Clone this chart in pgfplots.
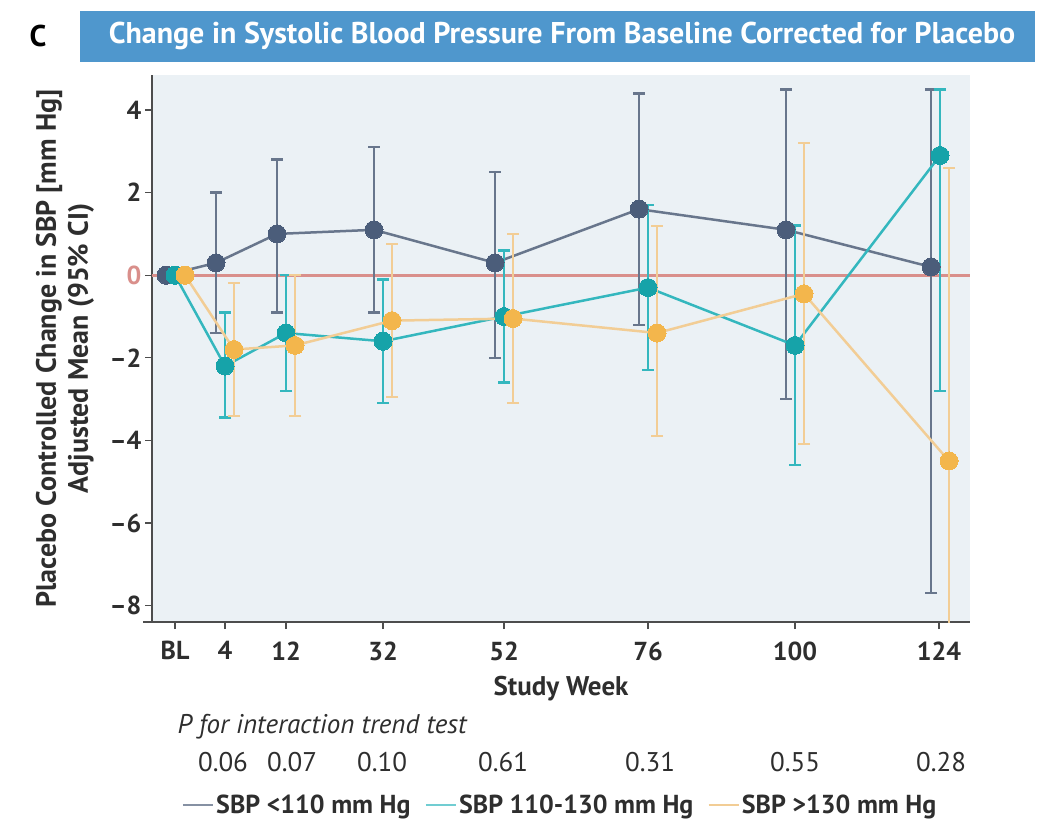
\documentclass[border=0pt]{standalone}
\usepackage{pgfplots}
\usepackage{pgfplotstable}
\pgfplotsset{compat=1.18}
\usepackage{fontspec}
\setmainfont{PT Sans}

\definecolor{darkm}{HTML}{4B5D7A}
\definecolor{darkl}{HTML}{68768C}
\definecolor{tealm}{HTML}{16A3A9}
\definecolor{teall}{HTML}{34B7BE}
\definecolor{orm}{HTML}{F3B64C}
\definecolor{orl}{HTML}{F2CD95}
\definecolor{zeroc}{HTML}{D98F8B}
\definecolor{bgc}{HTML}{EBF1F5}
\definecolor{axc}{HTML}{4D4D4D}
\definecolor{barc}{HTML}{4F97CD}
\definecolor{txtc}{HTML}{2E2E2E}

\pgfplotstableread{
x y em ep
166 0 0 0
216 0.3 1.7 1.7
277 1.0 1.9 1.8
374 1.1 2.0 2.0
495 0.3 2.3 2.2
639 1.6 2.8 2.8
786 1.1 4.1 3.4
931 0.2 7.9 4.3
}\darkdata

\pgfplotstableread{
x y em ep
175 0 0 0
225 -2.2 1.25 1.3
286 -1.4 1.4 1.4
383 -1.6 1.5 1.5
504 -1.0 1.6 1.6
648 -0.3 2.0 2.0
795 -1.7 2.9 2.9
940 2.9 5.7 1.6
}\tealdata

\pgfplotstableread{
x y em ep
185 0 0 0
234 -1.8 1.6 1.6
295 -1.7 1.7 1.7
392 -1.1 1.85 1.85
513 -1.05 2.05 2.05
657 -1.4 2.5 2.6
804 -0.45 3.65 3.65
949 -4.5 7.1 7.1
}\ordata

\begin{document}
\begin{tikzpicture}[x=1pt,y=1pt]
\path[use as bounding box] (0,0) rectangle (1043,819);
\fill[barc] (80,757) rectangle (1035,808);
\node[font=\fontsize{30}{34}\selectfont\bfseries, text=white] at (562,783) {Change in Systolic Blood Pressure From Baseline Corrected for Placebo};
\node[font=\fontsize{30}{34}\selectfont\bfseries, text=black] at (38,783) {C};

\begin{axis}[
  at={(152pt,197pt)}, anchor=south west,
  width=818pt, height=547pt, scale only axis,
  xmin=152, xmax=970, ymin=-8.4, ymax=4.85,
  axis background/.style={fill=bgc},
  axis x line*=bottom, axis y line*=left,
  axis line style={-, axc, line width=1.5pt},
  x axis line style={shorten <=-9pt},
  tick style={axc, line width=1.2pt},
  major tick length=7pt, tick align=outside,
  xtick={175,225,286,383,504,648,795,939},
  xticklabels={BL,4,12,32,52,76,100,124},
  ytick={-8,-6,-4,-2,0,2,4},
  yticklabels={\textendash8,\textendash6,\textendash4,\textendash2,\textcolor{zeroc}{0},2,4},
  tick label style={font=\fontsize{26}{30}\selectfont\bfseries, text=txtc},
  xticklabel style={yshift=-9pt},
  ylabel={Placebo Controlled Change in SBP [mm Hg]\\Adjusted Mean (95\% CI)},
  ylabel style={align=center, at={(axis description cs:-0.1064,0.5)}, anchor=center, font=\fontsize{28}{32}\selectfont\bfseries, text=txtc},
  xlabel={Study Week},
  xlabel style={at={(axis description cs:0.5,-0.122)}, anchor=center, font=\fontsize{27}{30}\selectfont\bfseries, text=txtc},
  legend style={at={(axis description cs:0.4988,-0.3346)}, anchor=center, draw=none, fill=none,
    legend columns=3, font=\fontsize{26}{30}\selectfont\bfseries, text=txtc,
    /tikz/every even column/.append style={column sep=12pt}},
  legend cell align=left,
]
\addplot[zeroc, line width=3pt, forget plot] coordinates {(152,0) (970,0)};

\addplot[color=darkl, line width=2.5pt, mark=*, mark size=9pt,
  mark options={fill=darkm, draw=darkm, line width=0pt}, forget plot,
  error bars/.cd, y dir=both, y explicit,
  error bar style={line width=2.5pt, color=darkl},
  error mark options={rotate=90, mark size=6pt, line width=2.5pt, color=darkl}]
  table[x=x, y=y, y error plus=ep, y error minus=em] {\darkdata};

\addplot[color=teall, line width=2.5pt, mark=*, mark size=9pt,
  mark options={fill=tealm, draw=tealm, line width=0pt}, forget plot,
  error bars/.cd, y dir=both, y explicit,
  error bar style={line width=2.5pt, color=teall},
  error mark options={rotate=90, mark size=6pt, line width=2.5pt, color=teall}]
  table[x=x, y=y, y error plus=ep, y error minus=em] {\tealdata};

\addplot[color=orl, line width=2.5pt, mark=*, mark size=9pt,
  mark options={fill=orm, draw=orm, line width=0pt}, forget plot,
  error bars/.cd, y dir=both, y explicit,
  error bar style={line width=2pt, color=orl},
  error mark options={rotate=90, mark size=6pt, line width=2pt, color=orl}]
  table[x=x, y=y, y error plus=ep, y error minus=em] {\ordata};

\addlegendimage{legend image code/.code={\draw[darkl!80, line width=2.5pt] (0pt,0pt) -- (30pt,0pt);}}
\addlegendentry{SBP <110 mm Hg}
\addlegendimage{legend image code/.code={\draw[teall!70, line width=2.5pt] (0pt,0pt) -- (30pt,0pt);}}
\addlegendentry{SBP 110-130 mm Hg}
\addlegendimage{legend image code/.code={\draw[orl, line width=2.5pt] (0pt,0pt) -- (30pt,0pt);}}
\addlegendentry{SBP >130 mm Hg}
\end{axis}

\node[anchor=west, font=\fontsize{27}{30}\selectfont\itshape, text=txtc] at (174,92) {P for interaction trend test};
\begin{scope}[every node/.style={font=\fontsize{27}{30}\selectfont, text=txtc}]
\node at (223,57) {0.06};
\node at (292,57) {0.07};
\node at (382,57) {0.10};
\node at (503,57) {0.61};
\node at (650,57) {0.31};
\node at (795,57) {0.55};
\node at (941,57) {0.28};
\end{scope}
\end{tikzpicture}
\end{document}
